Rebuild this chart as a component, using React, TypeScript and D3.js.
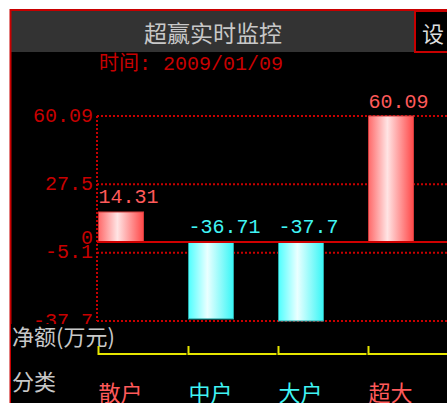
import React from 'react';
import * as d3 from 'd3';

// categories and net amounts (万元)
const categories = ['散户', '中户', '大户', '超大'];
const netValues = [14.31, -36.71, -37.7, 60.09];
const valueLabels = ['14.31', '-36.71', '-37.7', '60.09'];
const tickValues = [60.09, 27.5, 0, -5.1, -37.7];
const tickLabels = ['60.09', '27.5', '0', '-5.1', '-37.7'];

const title = '超赢实时监控';
const dateLabel = '时间: 2009/01/09';

const width = 447;
const height = 403;

const RED_AXIS = '#c80000';
const RED_TEXT = '#ff5a5a';
const CYAN_TEXT = '#40f4f4';
const MONO = "'Liberation Mono', 'DejaVu Sans Mono', 'Noto Sans CJK SC', monospace";
const CJK = "'Noto Sans CJK SC', sans-serif";

const App: React.FC = () => {
  const plotLeft = 97;

  const xScale = d3.scaleBand<string>()
    .domain(categories)
    .range([76, 436])
    .paddingInner(0.5)
    .paddingOuter(0.25);

  const yScale = d3.scaleLinear()
    .domain([-37.7, 60.09])
    .range([321, 116]);

  const y0 = yScale(0);

  // bracket path for the category row
  const bracket = (c: string) => {
    const x = xScale(c)!;
    return `M${x},346V354H${x + xScale.step() - 2}`;
  };

  return (
    <svg
      width={width}
      height={height}
      style={{ position: 'fixed', left: 0, top: 0, background: '#fff' }}
    >
      <defs>
        <linearGradient id="redGrad" x1="0" x2="1" y1="0" y2="0">
          <stop offset="0%" stopColor="#ff6a6a" />
          <stop offset="42%" stopColor="#ffe4e4" />
          <stop offset="100%" stopColor="#ff4848" />
        </linearGradient>
        <linearGradient id="cyanGrad" x1="0" x2="1" y1="0" y2="0">
          <stop offset="0%" stopColor="#50ffff" />
          <stop offset="42%" stopColor="#eaffff" />
          <stop offset="100%" stopColor="#38f6f6" />
        </linearGradient>
      </defs>

      {/* frame */}
      <rect x={11} y={11} width={width - 11} height={height - 11} fill="#000" />
      <rect x={11} y={11} width={width - 11} height={41} fill="#333" />
      <line x1={10.5} x2={10.5} y1={9} y2={height} stroke={RED_AXIS} strokeWidth={2} />
      <line x1={10} x2={width} y1={10} y2={10} stroke={RED_AXIS} strokeWidth={2} />
      <rect x={415} y={11} width={34} height={41} fill="#000" stroke={RED_AXIS} strokeWidth={2} />
      <text x={422} y={32} fill="#ddd" fontFamily={CJK} fontSize={22} dominantBaseline="central">设</text>
      <text x={213} y={32} fill="#c8c8c8" fontFamily={CJK} fontSize={23} textAnchor="middle" dominantBaseline="central">
        {title}
      </text>

      {/* date */}
      <text x={99} y={64} fill={RED_AXIS} fontFamily={MONO} fontSize={20} dominantBaseline="central">
        {dateLabel}
      </text>

      {/* grid */}
      {tickValues.filter(v => v !== 0).map(v => (
        <line
          key={v}
          x1={plotLeft}
          x2={width}
          y1={yScale(v)}
          y2={yScale(v)}
          stroke={RED_AXIS}
          strokeWidth={2}
          strokeDasharray="2,2"
        />
      ))}
      <line
        x1={plotLeft}
        x2={plotLeft}
        y1={yScale(60.09)}
        y2={yScale(-37.7)}
        stroke={RED_AXIS}
        strokeWidth={2}
        strokeDasharray="2,2"
      />

      {/* bars */}
      {categories.map((c, i) => {
        const v = netValues[i];
        const x = xScale(c)!;
        const top = Math.min(yScale(v), y0);
        const h = Math.abs(yScale(v) - y0);
        const pos = v >= 0;
        return (
          <rect
            key={c}
            x={x}
            y={top}
            width={xScale.bandwidth()}
            height={h}
            fill={pos ? 'url(#redGrad)' : 'url(#cyanGrad)'}
            stroke={pos ? '#d03a3a' : '#2aa8a8'}
            strokeWidth={1}
          />
        );
      })}

      {/* zero line */}
      <line x1={plotLeft} x2={width} y1={y0} y2={y0} stroke="#d00000" strokeWidth={2} />

      {/* value labels */}
      {categories.map((c, i) => {
        const v = netValues[i];
        const pos = v >= 0;
        return (
          <text
            key={c}
            x={xScale(c)!}
            y={(pos ? yScale(v) : y0) - 14}
            fill={pos ? RED_TEXT : CYAN_TEXT}
            fontFamily={MONO}
            fontSize={20}
            dominantBaseline="central"
          >
            {valueLabels[i]}
          </text>
        );
      })}

      {/* y tick labels */}
      {tickValues.map((v, i) => (
        <text
          key={v}
          x={93}
          y={yScale(v) - (v === 0 ? 3 : 0)}
          fill={RED_AXIS}
          fontFamily={MONO}
          fontSize={20}
          textAnchor="end"
          dominantBaseline="central"
        >
          {tickLabels[i]}
        </text>
      ))}

      {/* bottom panel */}
      <rect x={11} y={324} width={width - 11} height={height - 324} fill="#000" />
      <text x={12} y={335} fill="#c8c8c8" fontFamily={CJK} fontSize={22} dominantBaseline="central">
        净额(万元)
      </text>
      {categories.map(c => (
        <path key={c} d={bracket(c)} fill="none" stroke="#e6e600" strokeWidth={2} />
      ))}
      <text x={12} y={380} fill="#c8c8c8" fontFamily={CJK} fontSize={22} dominantBaseline="central">
        分类
      </text>
      {categories.map((c, i) => (
        <text
          key={c}
          x={xScale(c)!}
          y={391}
          fill={netValues[i] >= 0 ? RED_TEXT : CYAN_TEXT}
          fontFamily={CJK}
          fontSize={22}
          dominantBaseline="central"
        >
          {c}
        </text>
      ))}
    </svg>
  );
};

export default App;
